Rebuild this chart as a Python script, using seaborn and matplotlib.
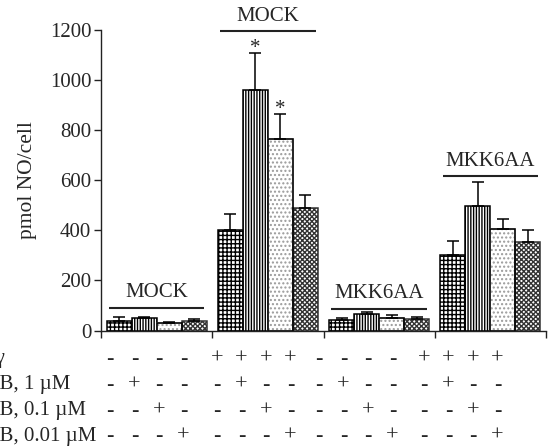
import matplotlib
matplotlib.use("Agg")
import matplotlib.pyplot as plt
import seaborn as sns
import pandas as pd
from matplotlib.patches import Rectangle

# ---- data -------------------------------------------------------------
groups = ["MOCK", "MOCK + IFN", "MKK6AA", "MKK6AA + IFN"]
group_titles = ["MOCK", "MOCK", "MKK6AA", "MKK6AA"]
treatments = ["none", "SB 1 µM", "SB 0.1 µM", "SB 0.01 µM"]

# mean NO production (pmol/cell), one list per treatment across groups
no_none = [39, 403, 42, 301]
no_sb1 = [48, 962, 64, 498]
no_sb01 = [28, 766, 50, 405]
no_sb001 = [36, 488, 46, 355]

# standard errors (upper whisker only)
err_none = [16, 62, 9, 58]
err_sb1 = [5, 146, 8, 95]
err_sb01 = [7, 98, 12, 42]
err_sb001 = [8, 53, 9, 46]

significant = [(1, 1), (1, 2)]  # (group, treatment) pairs marked with *

row_labels = ["IFN-γ", "SB, 1 µM", "SB, 0.1 µM", "SB, 0.01 µM"]
row_signs = [
    ["-", "-", "-", "-", "+", "+", "+", "+", "-", "-", "-", "-", "+", "+", "+", "+"],
    ["-", "+", "-", "-", "-", "+", "-", "-", "-", "+", "-", "-", "-", "+", "-", "-"],
    ["-", "-", "+", "-", "-", "-", "+", "-", "-", "-", "+", "-", "-", "-", "+", "-"],
    ["-", "-", "-", "+", "-", "-", "-", "+", "-", "-", "-", "+", "-", "-", "-", "+"],
]

values = [no_none, no_sb1, no_sb01, no_sb001]
errors = [err_none, err_sb1, err_sb01, err_sb001]

df = pd.DataFrame(
    [
        {"group": g, "treatment": t, "value": values[ti][gi]}
        for ti, t in enumerate(treatments)
        for gi, g in enumerate(groups)
    ]
)

# ---- style ------------------------------------------------------------
sns.set_style("ticks")
plt.rcParams["font.family"] = ["Liberation Serif", "DejaVu Serif"]
plt.rcParams["hatch.linewidth"] = 1.0
plt.rcParams["axes.linewidth"] = 1.0

W, H = 551, 446
fig = plt.figure(figsize=(W / 100, H / 100), dpi=100)
ax = fig.add_axes([101 / W, (H - 330.5) / H, (546 - 101) / W, 300.5 / H])

sns.barplot(
    data=df, x="group", y="value", hue="treatment",
    order=groups, hue_order=treatments,
    palette=["white"] * 4, edgecolor="black", linewidth=1.1,
    width=0.9, gap=0, errorbar=None, legend=False, ax=ax,
)

bar_containers = list(ax.containers)
hatches = ["++++", "||||||", "....", "xxxxxxx"]
for ti, cont in enumerate(bar_containers):
    for gi, bar in enumerate(cont.patches):
        bar.set_hatch(hatches[ti])
        if ti == 2:
            # light stipple, then a black outline on top
            bar.set_edgecolor("#9a9a9a")
            ax.add_patch(Rectangle(bar.get_xy(), bar.get_width(), bar.get_height(),
                                   fill=False, edgecolor="black", linewidth=1.1,
                                   zorder=bar.get_zorder() + 0.1))
        elif ti == 3:
            bar.set_edgecolor("#333333")
        xc = bar.get_x() + bar.get_width() / 2
        top = bar.get_height()
        err = errors[ti][gi]
        ax.errorbar(xc, top, yerr=[[0], [err]], fmt="none", ecolor="black",
                    elinewidth=1.1, capsize=4.2, capthick=1.1, zorder=5)
        if (gi, ti) in significant:
            ax.text(xc, top + err - 18, "*", ha="center", va="bottom",
                    fontsize=15, zorder=6)

# group brackets with titles
bracket_y = [90, 1195, 86, 615]
for gi, title in enumerate(group_titles):
    y = bracket_y[gi]
    ax.plot([gi - 0.43, gi + 0.43], [y, y], color="#222222", lw=1.5,
            clip_on=False, solid_capstyle="butt")
    ax.text(gi, y + 22, title, ha="center", va="bottom", fontsize=15,
            clip_on=False)

ax.set_xlim(-0.5, 3.5)
ax.set_ylim(0, 1200)
ax.set_yticks(range(0, 1201, 200))
ax.set_xticks([-0.5, 0.5, 1.5, 2.5, 3.5])
ax.set_xticklabels([])
ax.set_xlabel("")
ax.set_ylabel("pmol NO/cell", fontsize=15.5, labelpad=9)
ax.tick_params(axis="y", labelsize=15, length=5, width=1.0, direction="out",
               color="#222222", pad=2)
ax.tick_params(axis="x", length=5, width=1.0, direction="out", color="#222222")
for s in ("top", "right"):
    ax.spines[s].set_visible(False)
for s in ("left", "bottom"):
    ax.spines[s].set_color("#222222")

# treatment table under the axis
group_starts = [110, 217, 319, 424]
step = 24.5
row_y = [359, 385, 411, 436]
for r, (label, signs) in enumerate(zip(row_labels, row_signs)):
    y = 1 - row_y[r] / H
    if r == 0:
        fig.text(5 / W, y, label, ha="right", va="center", fontsize=15)
    else:
        fig.text(-12 / W, y, label, ha="left", va="center", fontsize=15)
    for k, s in enumerate(signs):
        x = group_starts[k // 4] + step * (k % 4)
        fig.text(x / W, y, s, ha="center", va="center", fontsize=16,
                 fontweight="bold" if s == "-" else "normal")

fig.savefig("out.png", dpi=100)
